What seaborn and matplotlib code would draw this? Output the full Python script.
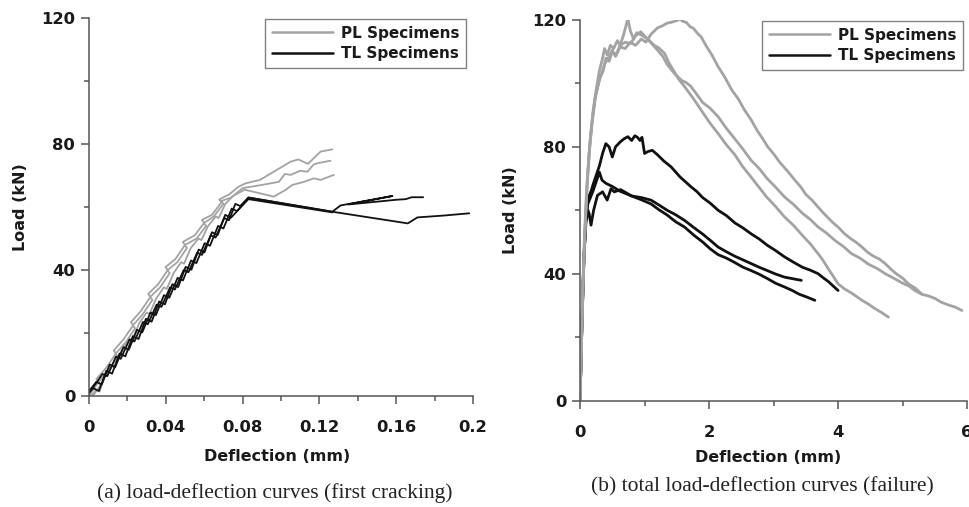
import numpy as np
import pandas as pd
import seaborn as sns
import matplotlib.pyplot as plt
from matplotlib.lines import Line2D
from matplotlib.ticker import MultipleLocator

# ---------------------------------------------------------------
# (a) first-cracking range: deflection (mm) / load (kN)
# ---------------------------------------------------------------
a_pl1_x = [0.000, 0.005, 0.0038, 0.009, 0.014, 0.0128, 0.018, 0.023, 0.0218, 0.027,
           0.032, 0.0308, 0.036, 0.041, 0.0398, 0.045, 0.050, 0.0488, 0.055, 0.060,
           0.0588, 0.064, 0.069, 0.0678, 0.073, 0.078, 0.0815, 0.089, 0.097, 0.105,
           0.109, 0.114, 0.1206, 0.1267]
a_pl1_y = [0, 4.5, 5.4, 9.0, 13.5, 14.4, 18.0, 22.5, 23.4, 27.0,
           31.5, 32.4, 35.5, 40.0, 40.9, 43.5, 48.0, 48.9, 51.0, 55.0,
           55.9, 57.5, 61.5, 62.4, 64.0, 66.5, 67.5, 68.6, 71.5, 74.4,
           75.1, 73.7, 77.6, 78.3]

a_pl2_x = [0.002, 0.006, 0.0048, 0.010, 0.015, 0.0138, 0.019, 0.024, 0.0228, 0.028,
           0.033, 0.0318, 0.037, 0.042, 0.0408, 0.046, 0.051, 0.0498, 0.056, 0.061,
           0.0598, 0.065, 0.070, 0.0688, 0.074, 0.080, 0.090, 0.0989, 0.102, 0.105,
           0.110, 0.1137, 0.117, 0.119, 0.1258]
a_pl2_y = [0, 3.5, 4.4, 8.0, 12.5, 13.4, 17.0, 21.5, 22.4, 26.0,
           30.5, 31.4, 34.5, 39.0, 39.9, 42.5, 47.0, 47.9, 50.0, 54.0,
           54.9, 57.0, 61.0, 61.9, 63.0, 66.0, 67.0, 68.0, 70.5, 70.2,
           71.5, 71.2, 73.5, 73.9, 74.7]

a_pl3_x = [0.001, 0.004, 0.0055, 0.008, 0.012, 0.0135, 0.017, 0.021, 0.0225, 0.026,
           0.030, 0.0315, 0.035, 0.039, 0.0405, 0.044, 0.048, 0.0495, 0.053, 0.057,
           0.0585, 0.062, 0.066, 0.0675, 0.071, 0.075, 0.081, 0.0962, 0.1023, 0.1058,
           0.112, 0.117, 0.1206, 0.1275]
a_pl3_y = [0, 2.0, 1.4, 6.0, 9.5, 9.0, 14.5, 18.0, 17.5, 23.0,
           26.5, 26.0, 31.0, 34.5, 34.0, 39.0, 42.5, 42.0, 47.0, 50.0,
           49.5, 54.0, 57.0, 56.5, 61.0, 63.5, 65.5, 63.3, 65.4, 67.0,
           68.0, 69.1, 68.6, 70.2]

a_tl1_x = [-0.002, 0.0038, 0.0066, 0.0108, 0.0136, 0.0179, 0.0207, 0.0249, 0.0277, 0.032,
           0.0348, 0.039, 0.0418, 0.0461, 0.0489, 0.0531, 0.0559, 0.0602, 0.063, 0.0672,
           0.070, 0.0743, 0.0771, 0.083, 0.1267, 0.166, 0.171, 0.185, 0.198]
a_tl1_y = [0, 4.5, 3.7, 10, 9.2, 15.5, 14.7, 21, 20.2, 26.5,
           25.7, 32, 31.2, 37.5, 36.7, 43, 42.2, 48.5, 47.7, 54,
           53.2, 59.5, 58.7, 63, 58.5, 54.8, 56.7, 57.3, 58.0]

a_tl2_x = [-0.001, 0.007, 0.0095, 0.014, 0.0165, 0.0211, 0.0236, 0.0281, 0.0306, 0.0352,
           0.0377, 0.0422, 0.0447, 0.0493, 0.0518, 0.0563, 0.0588, 0.0634, 0.0659, 0.0704,
           0.0729, 0.0762, 0.0787, 0.083, 0.1267, 0.131, 0.158, 0.135, 0.160, 0.165,
           0.168, 0.174]
a_tl2_y = [0, 7, 6.3, 12.5, 11.8, 18, 17.3, 23.5, 22.8, 29,
           28.3, 34.5, 33.8, 40, 39.3, 45.5, 44.8, 51, 50.3, 56.5,
           55.8, 61, 60.3, 63, 58.5, 60.5, 63.5, 60.8, 62.3, 62.5,
           63.1, 63.1]

a_tl3_x = [-0.002, 0.0021, 0.0051, 0.009, 0.012, 0.0159, 0.0189, 0.0228, 0.0258, 0.0296,
           0.0326, 0.0365, 0.0395, 0.0434, 0.0464, 0.0503, 0.0533, 0.0571, 0.0601, 0.064,
           0.067, 0.0709, 0.0739, 0.083, 0.1267]
a_tl3_y = [0, 2.5, 1.6, 8, 7.1, 13.5, 12.6, 19, 18.1, 24.5,
           23.6, 30, 29.1, 35.5, 34.6, 41, 40.1, 46.5, 45.6, 52,
           51.1, 57.5, 56.6, 62.5, 58.3]

# ---------------------------------------------------------------
# (b) complete curves up to failure
# ---------------------------------------------------------------
b_pl1_x = [0, 0.02, 0.04, 0.07, 0.10, 0.14, 0.18, 0.23, 0.30, 0.38,
           0.45, 0.50, 0.55, 0.62, 0.70, 0.78, 0.86, 0.95, 1.02, 1.10,
           1.20, 1.28, 1.35, 1.42, 1.50, 1.55, 1.59, 1.65, 1.70, 1.76,
           1.82, 1.88, 1.95, 2.04, 2.14, 2.24, 2.35, 2.45, 2.55, 2.65,
           2.75, 2.83, 2.91, 3.00, 3.10, 3.21, 3.33, 3.42, 3.50, 3.60,
           3.69, 3.77, 3.85, 3.93, 4.00, 4.10, 4.20, 4.28, 4.37, 4.46,
           4.55, 4.64, 4.73, 4.82, 4.90, 5.00, 5.09, 5.20, 5.30, 5.40,
           5.50, 5.60, 5.70, 5.81, 5.92]
b_pl1_y = [0, 18, 35, 52, 66, 78, 87, 95, 101, 106,
           108.5, 110.5, 108.5, 111.5, 111, 113, 112, 114, 113, 115.5,
           117.5, 118.2, 119, 119.3, 119.8, 120.3, 119.6, 119.2, 118, 117.3,
           115.8, 114.6, 112, 109.1, 105.3, 102.1, 98, 95.2, 91.6, 88.6,
           85, 82.6, 80, 77.8, 75, 72.5, 69.5, 67.4, 65, 63.1,
           61, 59.2, 57.5, 55.9, 54.7, 52.6, 51, 49.9, 48.4, 46.7,
           45.5, 44.6, 43.2, 41.4, 40, 38.6, 36.8, 35.4, 33.5, 33.0,
           32.2, 31.0, 30.2, 29.5, 28.4]

b_pl2_x = [0, 0.025, 0.05, 0.08, 0.11, 0.15, 0.19, 0.24, 0.30, 0.36,
           0.40, 0.45, 0.50, 0.56, 0.62, 0.70, 0.78, 0.86, 0.94, 1.02,
           1.10, 1.20, 1.28, 1.35, 1.46, 1.57, 1.65, 1.72, 1.80, 1.90,
           2.02, 2.14, 2.27, 2.40, 2.52, 2.65, 2.78, 2.90, 3.03, 3.17,
           3.31, 3.45, 3.57, 3.69, 3.82, 3.95, 4.08, 4.21, 4.34, 4.47,
           4.60, 4.73, 4.86, 5.00, 5.10, 5.19, 5.30]
b_pl2_y = [0, 20, 38, 55, 68, 80, 88, 96, 101.5, 104,
           108, 107, 110, 109, 112, 113, 112.5, 115, 116.3, 114.5,
           112.8, 110.5, 108.6, 106, 103.2, 101, 100.2, 99, 96.8, 94,
           92.1, 89.5, 85.8, 82.5, 79.4, 75.8, 73.1, 70, 67.3, 64.2,
           61.8, 59, 57.1, 54.7, 52.8, 50.5, 48.6, 46.3, 44.9, 43,
           41.7, 40, 38.6, 37, 36.1, 34.7, 33.5]

b_pl3_x = [0, 0.03, 0.06, 0.09, 0.12, 0.16, 0.20, 0.25, 0.30, 0.35,
           0.38, 0.42, 0.47, 0.52, 0.58, 0.62, 0.67, 0.71, 0.74, 0.78,
           0.83, 0.88, 0.97, 1.05, 1.15, 1.22, 1.31, 1.38, 1.45, 1.53,
           1.62, 1.75, 1.88, 2.01, 2.14, 2.27, 2.40, 2.52, 2.65, 2.78,
           2.90, 3.03, 3.17, 3.31, 3.45, 3.57, 3.69, 3.77, 3.85, 3.93,
           4.00, 4.10, 4.20, 4.28, 4.37, 4.47, 4.57, 4.67, 4.78]
b_pl3_y = [0, 25, 46, 60, 72, 83, 91, 98, 104, 108,
           111, 109, 112, 111, 113.5, 112, 115, 118, 120.5, 116.5,
           114, 116, 115, 114, 112, 111.2, 109.5, 106.4, 104, 101.3,
           99, 95.4, 91.5, 87.6, 84.2, 80.6, 77.5, 73.8, 70.5, 67.1,
           64, 61.2, 57.9, 55.2, 52, 49.4, 46.3, 44.1, 41.5, 39.0,
           36.8, 35.2, 34, 32.9, 31.6, 30.4, 29, 27.8, 26.3]

b_tl1_x = [0, 0.03, 0.06, 0.09, 0.13, 0.17, 0.20, 0.25, 0.30, 0.35,
           0.40, 0.45, 0.50, 0.55, 0.62, 0.68, 0.74, 0.80, 0.85, 0.89,
           0.93, 0.96, 1.00, 1.05, 1.12, 1.20, 1.30, 1.41, 1.55, 1.72,
           1.81, 1.90, 2.02, 2.14, 2.27, 2.40, 2.52, 2.65, 2.78, 2.90,
           3.03, 3.17, 3.31, 3.45, 3.57, 3.69, 3.77, 3.85, 3.93, 4.00]
b_tl1_y = [0, 25, 45, 58, 64, 66, 68, 71, 74, 78,
           81, 80, 76.8, 80, 81.5, 82.5, 83.2, 82, 83.5, 83,
           82, 83, 77.9, 78.5, 78.9, 77.5, 75.5, 73.7, 70.5, 67.4,
           65.9, 64, 62.2, 60, 58.3, 56, 54.5, 52.6, 50.9, 49,
           47.3, 45.3, 43.6, 42, 41.1, 40, 38.7, 37.5, 36.0, 34.7]

b_tl2_x = [0, 0.03, 0.06, 0.09, 0.12, 0.16, 0.20, 0.25, 0.30, 0.34,
           0.40, 0.50, 0.62, 0.80, 0.95, 1.10, 1.22, 1.35, 1.48, 1.62,
           1.76, 1.90, 2.02, 2.14, 2.27, 2.40, 2.52, 2.65, 2.78, 2.90,
           3.03, 3.17, 3.30, 3.43]
b_tl2_y = [0, 25, 45, 57, 62, 64, 66, 69, 72, 69.5,
           68.5, 67.5, 66, 64.5, 64.0, 63.2, 61.7, 60, 58.6, 56.8,
           54.6, 52.5, 50.5, 48.4, 46.9, 45.5, 44.4, 43.2, 42.0, 41,
           39.9, 38.9, 38.4, 37.9]

b_tl3_x = [0, 0.03, 0.06, 0.09, 0.12, 0.14, 0.17, 0.21, 0.27, 0.35,
           0.42, 0.48, 0.53, 0.63, 0.80, 0.95, 1.10, 1.22, 1.35, 1.48,
           1.62, 1.76, 1.90, 2.02, 2.14, 2.27, 2.40, 2.52, 2.65, 2.78,
           2.90, 3.03, 3.17, 3.29, 3.40, 3.52, 3.64]
b_tl3_y = [0, 25, 45, 56, 60, 59, 55.3, 60, 64.7, 65.8,
           63.2, 66.8, 65.8, 66.5, 64.5, 63.3, 62, 60.2, 58.5, 56.4,
           54.7, 52.2, 50, 47.8, 46, 44.9, 43.5, 42.1, 41, 39.8,
           38.5, 37.0, 35.8, 34.7, 33.5, 32.6, 31.6]

series_names = ["PL Specimens", "TL Specimens"]
a_x_ticks = [0, 0.04, 0.08, 0.12, 0.16, 0.2]
a_x_tick_labels = ["0", "0.04", "0.08", "0.12", "0.16", "0.2"]
b_x_ticks = [0, 2, 4, 6]
b_x_tick_labels = ["0", "2", "4", "6"]
y_ticks = [0, 40, 80, 120]
y_tick_labels = ["0", "40", "80", "120"]
captions = ["(a) load-deflection curves (first cracking)",
            "(b) total load-deflection curves (failure)"]


def to_frame(curves):
    rows = []
    for spec, (kind, xs, ys) in enumerate(curves):
        for i, (xv, yv) in enumerate(zip(xs, ys)):
            rows.append({"specimen": spec, "type": kind, "step": i,
                         "deflection": xv, "load": yv})
    return pd.DataFrame(rows)


df_a = to_frame([
    (series_names[0], a_pl1_x, a_pl1_y),
    (series_names[0], a_pl2_x, a_pl2_y),
    (series_names[0], a_pl3_x, a_pl3_y),
    (series_names[1], a_tl1_x, a_tl1_y),
    (series_names[1], a_tl2_x, a_tl2_y),
    (series_names[1], a_tl3_x, a_tl3_y),
])
df_b = to_frame([
    (series_names[1], b_tl1_x, b_tl1_y),
    (series_names[1], b_tl2_x, b_tl2_y),
    (series_names[1], b_tl3_x, b_tl3_y),
    (series_names[0], b_pl1_x, b_pl1_y),
    (series_names[0], b_pl2_x, b_pl2_y),
    (series_names[0], b_pl3_x, b_pl3_y),
])

GRAY = "#a3a3a3"
BLACK = "#111111"
AXIS = "#555555"
palette = {series_names[0]: GRAY, series_names[1]: BLACK}

sns.set_theme(style="white")
plt.rcParams["font.family"] = ["DejaVu Sans"]

fig = plt.figure(figsize=(9.7, 5.07), dpi=100)
ax_a = fig.add_axes([0.0918, 0.2189, 0.3959, 0.7456])
ax_b = fig.add_axes([0.598, 0.210, 0.3990, 0.7506])

sns.lineplot(data=df_a, x="deflection", y="load", hue="type", units="specimen",
             estimator=None, sort=False, palette=palette,
             hue_order=series_names, linewidth=1.3, legend=False, ax=ax_a)
sns.lineplot(data=df_b, x="deflection", y="load", hue="type", units="specimen",
             estimator=None, sort=False, palette=palette,
             hue_order=series_names[::-1], linewidth=2.0, legend=False, ax=ax_b)

tick_font = dict(fontsize=11.8, fontweight="bold", color="#1a1a1a")
label_font = dict(fontsize=11.5, fontweight="bold", color="#1a1a1a")

panels = [
    (ax_a, (0, 0.2), a_x_ticks, a_x_tick_labels, 0.02),
    (ax_b, (0, 6), b_x_ticks, b_x_tick_labels, 1),
]
for ax, xlim, xt, xtl, xminor in panels:
    ax.set_xlim(*xlim)
    ax.set_ylim(0, 120)
    ax.set_xticks(xt)
    ax.set_xticklabels(xtl, **tick_font)
    ax.set_yticks(y_ticks)
    ax.set_yticklabels(y_tick_labels, **tick_font)
    ax.xaxis.set_minor_locator(MultipleLocator(xminor))
    ax.yaxis.set_minor_locator(MultipleLocator(20))
    ax.tick_params(which="major", direction="out", length=6, width=1.1,
                   color=AXIS, bottom=True, left=True)
    ax.tick_params(which="minor", direction="out", length=3.5, width=1.1,
                   color=AXIS, bottom=True, left=True)
    ax.tick_params(axis="x", which="major", pad=11.5)
    ax.tick_params(axis="y", which="major", pad=4)
    for side in ("top", "right"):
        ax.spines[side].set_visible(False)
    for side in ("left", "bottom"):
        ax.spines[side].set_color(AXIS)
        ax.spines[side].set_linewidth(1.1)
    ax.set_xlabel("Deflection (mm)", **label_font)
    ax.set_ylabel("Load (kN)", **label_font)
    ax.set_facecolor("white")

ax_a.xaxis.set_label_coords(0.49, -0.14)
ax_a.yaxis.set_label_coords(-0.159, 0.5)
ax_b.xaxis.set_label_coords(0.486, -0.13)
ax_b.yaxis.set_label_coords(-0.16, 0.5)

handles = [Line2D([], [], color=GRAY, lw=1.8), Line2D([], [], color=BLACK, lw=1.8)]
for ax, anchor in ((ax_a, (0.982, 0.998)), (ax_b, (0.99, 0.998))):
    leg = ax.legend(handles, series_names, loc="upper right", bbox_to_anchor=anchor,
                    frameon=True, fancybox=False, framealpha=1, edgecolor="#808080",
                    handlelength=4.0, handletextpad=0.5, borderpad=0.45,
                    labelspacing=0.35, borderaxespad=0,
                    prop=dict(size=11, weight="bold"))
    leg.get_frame().set_linewidth(1.0)
    for t in leg.get_texts():
        t.set_color("#1a1a1a")

serif = ["Liberation Serif", "DejaVu Serif"]
fig.text(275 / 970, 1 - 493 / 507, captions[0], ha="center", va="center",
         fontsize=15.5, family=serif, color="#222222")
fig.text(762 / 970, 1 - 487 / 507, captions[1], ha="center", va="center",
         fontsize=15.5, family=serif, color="#222222")

fig.savefig("out.png", dpi=100, facecolor="white")
